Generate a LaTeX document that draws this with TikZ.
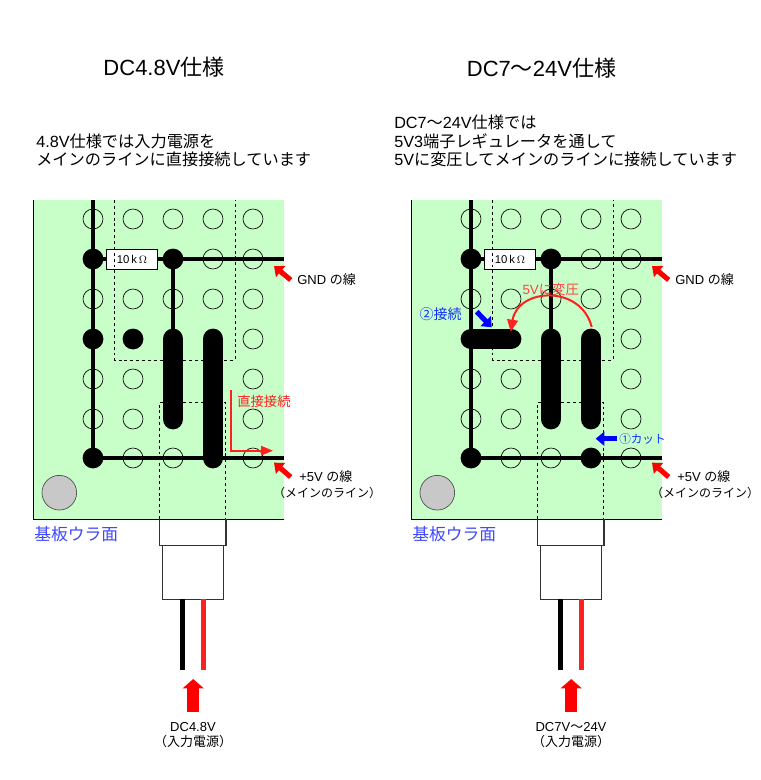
\documentclass[tikz,border=0pt]{standalone}
\usepackage{fontspec}
\setmainfont{Liberation Sans}
\newfontfamily\cjk{Noto Sans CJK JP}
\newcommand{\J}[1]{{\cjk #1}}
\usetikzlibrary{arrows.meta}
\definecolor{boardgreen}{HTML}{C8FFC8}
\definecolor{holegray}{HTML}{C8C8C8}
\definecolor{notered}{HTML}{FF2020}
\definecolor{noteblue}{HTML}{1030FF}
\definecolor{sideblue}{HTML}{4048FF}
\tikzset{
  x=0.75pt,y=-0.75pt,
  hole/.style={circle,draw=black,line width=0.5pt,minimum size=15pt,inner sep=0},
  pad/.style={circle,fill=black,minimum size=15.6pt,inner sep=0},
  wire/.style={line width=2.5pt,black},
  bar/.style={line width=15.6pt,black,line cap=round},
  resistor/.style={draw=black,fill=white,line width=0.7pt,minimum width=38.5pt,minimum height=15pt,inner sep=0,font=\fontsize{8.5}{9}\selectfont},
  hidden/.style={draw=black,line width=0.6pt,dash pattern=on 2.2pt off 2.2pt},
  lbl/.style={inner sep=0,font=\fontsize{9.75}{11}\selectfont},
  para/.style={inner sep=0,anchor=west,font=\fontsize{12.15}{14}\selectfont},
  headline/.style={inner sep=0,font=\fontsize{16.5}{19}\selectfont},
  bigred/.style={line width=3.8pt,red,-{Triangle[length=6.5pt,width=10.5pt]}},
  bigblue/.style={line width=3.8pt,blue,-{Triangle[length=6.5pt,width=10.5pt]}},
  supply/.style={line width=8.8pt,red,-{Triangle[length=7pt,width=15.5pt]}},
}
\newcommand{\boardbase}{%
  \fill[boardgreen] (33,200) rectangle (284,519);
  \draw[line width=1.4pt] (33.5,200) -- (33.5,519.5) -- (284,519.5);
  \foreach \c/\x in {1/93,2/133,3/173,4/213,5/253}
    \foreach \r/\y in {1/219,2/259,3/299,4/339,5/379,6/419,7/458}
      \coordinate (g\c\r) at (\x,\y);
  \foreach \c/\r in {1/1,2/1,3/1,4/1,5/1,4/2,5/2,1/3,2/3,3/3,4/3,5/3,5/4,1/5,2/5,5/5,1/6,2/6,5/6,2/7,3/7,5/7}
    \node[hole] (h\c\r) at (g\c\r) {};
  \coordinate (vtop) at (93,200);
  \coordinate (gndend) at (284,259);
  \coordinate (vccend) at (284,458);
  \node[pad] (p12) at (g12) {};
  \node[pad] (p17) at (g17) {};
  \node[pad] (p32) at (g32) {};
  \draw[wire] (vtop) -- (p17.center);
  \draw[wire] (p12.center) -- (gndend);
  \draw[wire] (p17.center) -- (vccend);
  \draw[wire] (p32.center) -- (g34);
  \node[resistor] (res) at (132,259) {10\,k\,$\Omega$};
  \node[circle,fill=holegray,draw=black!70,line width=0.5pt,minimum size=26pt,inner sep=0] (mount) at (59.3,492.7) {};
  \draw[bar] (g34) -- (g36);
}
\newcommand{\boardover}{%
  \draw[hidden] (114.3,200) -- (114.3,360) -- (235,360) -- (235,200);
  \draw[hidden] (159.5,519) -- (159.5,402) -- (225.7,402) -- (225.7,519);
  \draw[black!80,line width=0.9pt] (159.5,519) -- (159.5,545.5) -- (226,545.5) -- (226,519);
  \node[draw=black!80,line width=0.9pt,minimum width=45.8pt,minimum height=40pt,inner sep=0] (plug) at (193.3,572.5) {};
  \coordinate (bw) at (182.7,669.5);
  \coordinate (rw) at (203.7,669.5);
  \draw[line width=3.8pt,black] (182.7,599) -- (bw);
  \draw[line width=3.8pt,notered] (203.7,599) -- (rw);
  \coordinate (sa) at (193.2,712);
  \coordinate (sb) at (193.2,679);
  \draw[supply] (sa) -- (sb);
  \coordinate (ga) at (290.7,280);
  \coordinate (gb) at (274,266);
  \draw[bigred] (ga) -- (gb);
  \coordinate (va) at (290.7,477);
  \coordinate (vb) at (274,462.7);
  \draw[bigred] (va) -- (vb);
  \node[lbl,anchor=west] (gndt) at (297,280) {GND\ \J{の線}};
  \node[lbl,anchor=west] (vcct) at (299,477) {+5V\ \J{の線}};
  \node[lbl,font=\fontsize{9}{11}\selectfont] (maint) at (327,493) {\J{（メインのライン）}};
  \node[inner sep=0,anchor=west,text=sideblue,font=\fontsize{12.6}{15}\selectfont] (side) at (34,534) {\J{基板ウラ面}};
}
\begin{document}
\begin{tikzpicture}
\useasboundingbox (0,0) rectangle (760,780);
\fill[white] (0,0) rectangle (760,780);

\node[headline] (t1) at (164,67) {DC4.8V\J{仕様}};
\node[headline] (t2) at (541.5,68) {DC7\J{～}24V\J{仕様}};
\node[para] (a1) at (36,141) {4.8V\J{仕様では入力電源を}};
\node[para] (a2) at (36,159.5) {\J{メインのラインに直接接続しています}};
\node[para] (b1) at (394,122) {DC7\J{～}24V\J{仕様では}};
\node[para] (b2) at (394,141) {5V3\J{端子レギュレータを通して}};
\node[para] (b3) at (394,159.5) {5V\J{に変圧してメインのラインに接続しています}};

% left panel
\begin{scope}[name prefix=L-]
  \boardbase
  \node[pad] (p14) at (g14) {};
  \node[pad] (p24) at (g24) {};
  \draw[bar] (g44) -- (g47);
  \boardover
  \coordinate (la) at (230.7,390);
  \coordinate (lb) at (230.7,450.7);
  \coordinate (lc) at (273,450.7);
  \draw[notered,line width=1.5pt,-{Triangle[length=9pt,width=7pt]}] (la) -- (lb) -- (lc);
  \node[inner sep=0,anchor=west,text=notered,font=\fontsize{10}{12}\selectfont] (direct) at (237,401) {\J{直接接続}};
  \node[lbl] (inv1) at (193,727) {DC4.8V};
  \node[lbl] (inv2) at (193,742) {\J{（入力電源）}};
\end{scope}

% right panel
\begin{scope}[name prefix=R-,xshift=283.5pt]
  \boardbase
  \node[pad] (p47) at (g47) {};
  \draw[bar] (g14) -- (g24);
  \draw[bar] (g44) -- (g46);
  \boardover
  \coordinate (aa) at (213.7,327);
  \coordinate (ab) at (132.7,331.7);
  \draw[notered,line width=1.5pt,-{Triangle[length=9pt,width=8pt]}] (aa) .. controls (202.7,284) and (139.6,288) .. (ab);
  \node[inner sep=0,text=red!75!white,font=\fontsize{10}{12}\selectfont] (conv) at (172.7,289) {5V\J{に変圧}};
  \coordinate (ba) at (98.7,311.7);
  \coordinate (bb) at (113.7,327.3);
  \draw[bigblue] (ba) -- (bb);
  \node[inner sep=0,anchor=east,text=noteblue,font=\fontsize{10.5}{12}\selectfont] (conn) at (84,314) {\J{②接続}};
  \coordinate (ca) at (238.7,438.7);
  \coordinate (cb) at (217.7,438.7);
  \draw[bigblue] (ca) -- (cb);
  \node[inner sep=0,anchor=west,text=noteblue,font=\fontsize{8.7}{12}\selectfont] (cut) at (241,439) {\J{①カット}};
  \node[lbl] (inv1) at (193,727) {DC7V\J{～}24V};
  \node[lbl] (inv2) at (193,742) {\J{（入力電源）}};
\end{scope}
\end{tikzpicture}
\end{document}
